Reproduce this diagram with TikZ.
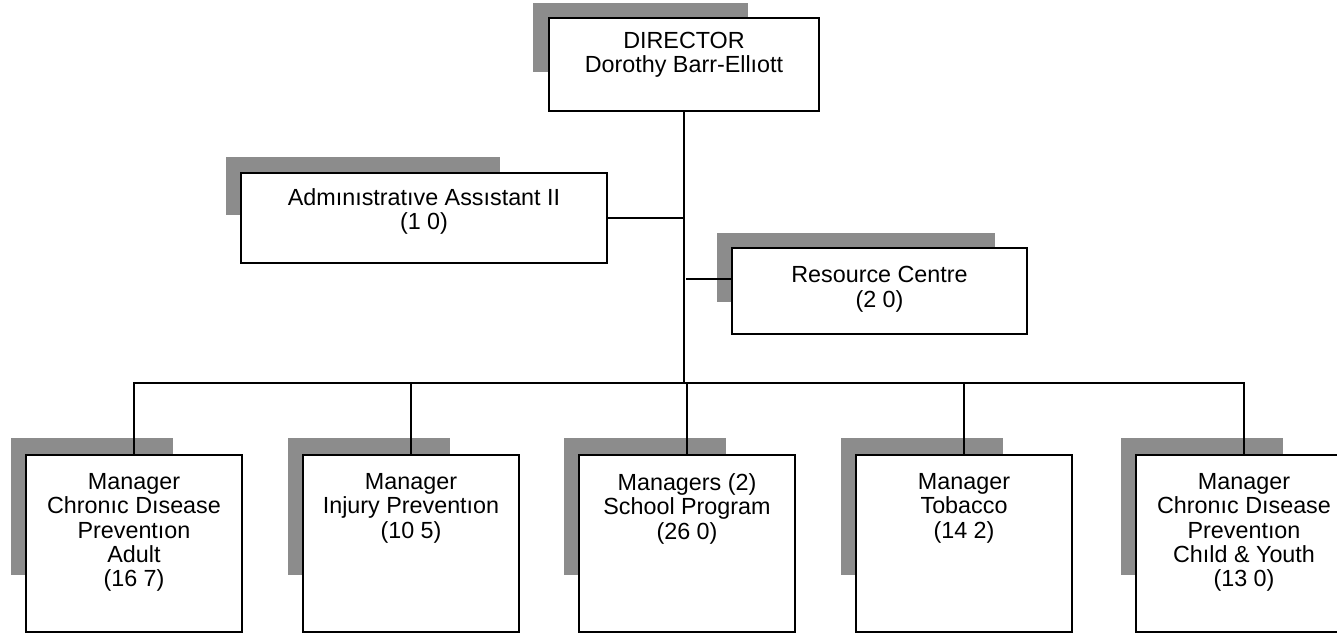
\documentclass[tikz,border=0pt]{standalone}
\usepackage{fontspec}
\setmainfont{Liberation Sans}
\begin{document}
\begin{tikzpicture}[x=0.75pt,y=-0.75pt,
  box/.style={draw=black, line width=1.4pt, fill=white, rectangle, inner sep=0pt},
  shade/.style={fill=black!45, draw=none},
  conn/.style={draw=black, line width=1.3pt},
  lbl/.style={font=\fontsize{17.5}{18.3}\selectfont, align=center, inner sep=0pt, anchor=north}
]
\useasboundingbox (0,0) rectangle (1337,634);
\fill[white] (0,0) rectangle (1337,634);

% shadows
\fill[shade] (533,3) rectangle (748,72);
\fill[shade] (226,157) rectangle (500,215);
\fill[shade] (717,233) rectangle (995,302);
\foreach \x in {26,303,579,856,1136}{
  \fill[shade] (\x-15,438) rectangle (\x+147,575);
}

% boxes
\node[box, minimum width=203pt, minimum height=70pt] (dir) at (684,64.5) {};
\node[box, minimum width=274.5pt, minimum height=67.5pt] (admin) at (424,218) {};
\node[box, minimum width=221.25pt, minimum height=64.5pt] (res) at (879.5,291) {};
\node[box, minimum width=162pt, minimum height=132.75pt] (adult) at (134,543.5) {};
\node[box, minimum width=162pt, minimum height=132.75pt] (inj) at (411,543.5) {};
\node[box, minimum width=162pt, minimum height=132.75pt] (school) at (687,543.5) {};
\node[box, minimum width=162pt, minimum height=132.75pt] (tob) at (964,543.5) {};
\node[box, minimum width=162pt, minimum height=132.75pt] (child) at (1244,543.5) {};

% labels
\node[lbl] (tdir) at ([yshift=-11.25pt]dir.north) {DIRECTOR\\Dorothy Barr-Ellıott};
\node[lbl] (tadmin) at ([yshift=-12pt]admin.north) {Admınıstratıve Assıstant II\\(1 0)};
\node[lbl] (tres) at ([yshift=-14.25pt]res.north) {Resource Centre\\(2 0)};
\node[lbl] (tadult) at ([yshift=-14.25pt]adult.north) {Manager\\Chronıc Dısease\\Preventıon\\Adult\\(16 7)};
\node[lbl] (tinj) at ([yshift=-14.25pt]inj.north) {Manager\\Injury Preventıon\\(10 5)};
\node[lbl] (tschool) at ([yshift=-14.25pt]school.north) {Managers (2)\\School Program\\(26 0)};
\node[lbl] (ttob) at ([yshift=-14.25pt]tob.north) {Manager\\Tobacco\\(14 2)};
\node[lbl] (tchild) at ([yshift=-14.25pt]child.north) {Manager\\Chronıc Dısease\\Preventıon\\Chıld \& Youth\\(13 0)};

% connectors
\coordinate (bus) at (686,383);
\coordinate (rj) at (686,279);
\draw[conn] (dir.south) -- (dir.south |- bus);
\draw[conn] (admin.east) -- (admin.east -| dir.south);
\draw[conn] (rj) -- (rj -| res.west);
\draw[conn] (adult.north) -- (adult.north |- bus) -- (child.north |- bus) -- (child.north);
\draw[conn] (inj.north) -- (inj.north |- bus);
\draw[conn] (school.north) -- (school.north |- bus);
\draw[conn] (tob.north) -- (tob.north |- bus);
\end{tikzpicture}
\end{document}
